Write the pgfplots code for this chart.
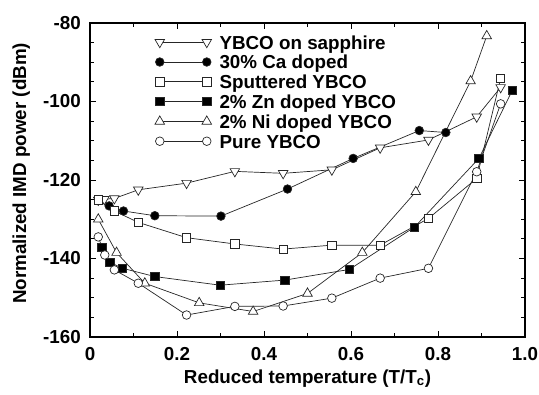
\documentclass[border=0pt]{standalone}
\usepackage{fontspec}
\setmainfont{Liberation Sans}
\usepackage{pgfplots}
\pgfplotsset{compat=1.18}
\newcommand{\ff}{\bfseries\fontsize{18.8bp}{21bp}\selectfont}
\begin{document}
\begin{tikzpicture}
\useasboundingbox (-90bp,-58bp) rectangle (449bp,337bp);
\begin{axis}[
  scale only axis, width=435bp, height=314bp,
  xmin=0, xmax=1, ymin=-160, ymax=-80,
  xtick={0,0.2,0.4,0.6,0.8,1.0}, xticklabels={0,0.2,0.4,0.6,0.8,1.0},
  ytick={-160,-140,-120,-100,-80}, yticklabels={-160,-140,-120,-100,-80},
  minor x tick num=1, minor y tick num=3,
  tick align=inside, tick pos=both,
  major tick length=6bp, minor tick length=4bp,
  every tick/.style={black, line width=0.8bp},
  axis line style={line width=1.1bp},
  tick label style={font=\ff},
  xticklabel style={inner sep=0pt, yshift=-10bp},
  yticklabel style={inner sep=0pt, xshift=-9bp},
  label style={font=\ff},
  xlabel={Reduced temperature (T/T\textsubscript{c})},
  ylabel={Normalized IMD power (dBm)},
  xlabel style={at={(axis description cs:0.5,-0.1465)}, anchor=base},
  ylabel style={at={(axis description cs:-0.1471,0.521)}, anchor=base},
  legend cell align=left,
  legend image code/.code={\draw[#1] plot coordinates {(0bp,0bp) (47bp,0bp)};},
  legend style={draw=none, fill=none, at={(0.149,0.971)}, anchor=north west,
    inner xsep=0pt, inner ysep=0pt, column sep=8bp, font=\ff,
    nodes={inner sep=0pt, text height=16.7bp, text depth=3.1bp}, cells={anchor=west}},
  every axis plot/.append style={black!85, line width=0.7bp},
]
\addplot[mark=triangle*, mark size=5.5bp, mark options={rotate=180, fill=white, solid}] coordinates {
(0.019,-125.1)(0.033,-124.9)(0.056,-124.7)(0.111,-122.5)(0.222,-120.8)(0.333,-117.8)(0.444,-118.3)(0.556,-117.4)(0.667,-111.8)(0.778,-109.8)(0.889,-103.9)(0.944,-96.4)};
\addlegendentry{YBCO on sapphire}
\addplot[mark=*, mark size=4.3bp, mark options={fill=black, solid}] coordinates {
(0.044,-126.6)(0.077,-127.9)(0.149,-129.1)(0.301,-129.2)(0.454,-122.3)(0.605,-114.5)(0.757,-107.4)(0.818,-107.9)};
\addlegendentry{30\% Ca doped}
\addplot[mark=square*, mark size=4.2bp, mark options={fill=white, solid}] coordinates {
(0.019,-125.1)(0.056,-127.9)(0.111,-130.8)(0.222,-134.7)(0.333,-136.3)(0.444,-137.6)(0.556,-136.6)(0.667,-136.6)(0.778,-129.8)(0.889,-119.6)(0.944,-94.1)};
\addlegendentry{Sputtered YBCO}
\addplot[mark=square*, mark size=4.2bp, mark options={fill=black, solid}] coordinates {
(0.027,-137.2)(0.046,-141.0)(0.075,-142.5)(0.149,-144.6)(0.299,-146.8)(0.448,-145.5)(0.596,-142.8)(0.746,-132.0)(0.894,-114.5)(0.971,-97.1)};
\addlegendentry{2\% Zn doped YBCO}
\addplot[mark=triangle*, mark size=5.5bp, mark options={fill=white, solid}] coordinates {
(0.019,-130.0)(0.061,-138.5)(0.126,-146.3)(0.251,-151.3)(0.375,-153.5)(0.5,-148.9)(0.626,-138.5)(0.749,-123.0)(0.875,-94.8)(0.912,-83.3)};
\addlegendentry{2\% Ni doped YBCO}
\addplot[mark=*, mark size=4.3bp, mark options={fill=white, solid}] coordinates {
(0.019,-134.5)(0.034,-139.1)(0.056,-142.9)(0.111,-146.3)(0.222,-154.4)(0.333,-152.2)(0.444,-152.1)(0.556,-150.1)(0.667,-145.0)(0.778,-142.5)(0.889,-117.9)(0.944,-100.6)};
\addlegendentry{Pure YBCO}
\end{axis}
\end{tikzpicture}
\end{document}
